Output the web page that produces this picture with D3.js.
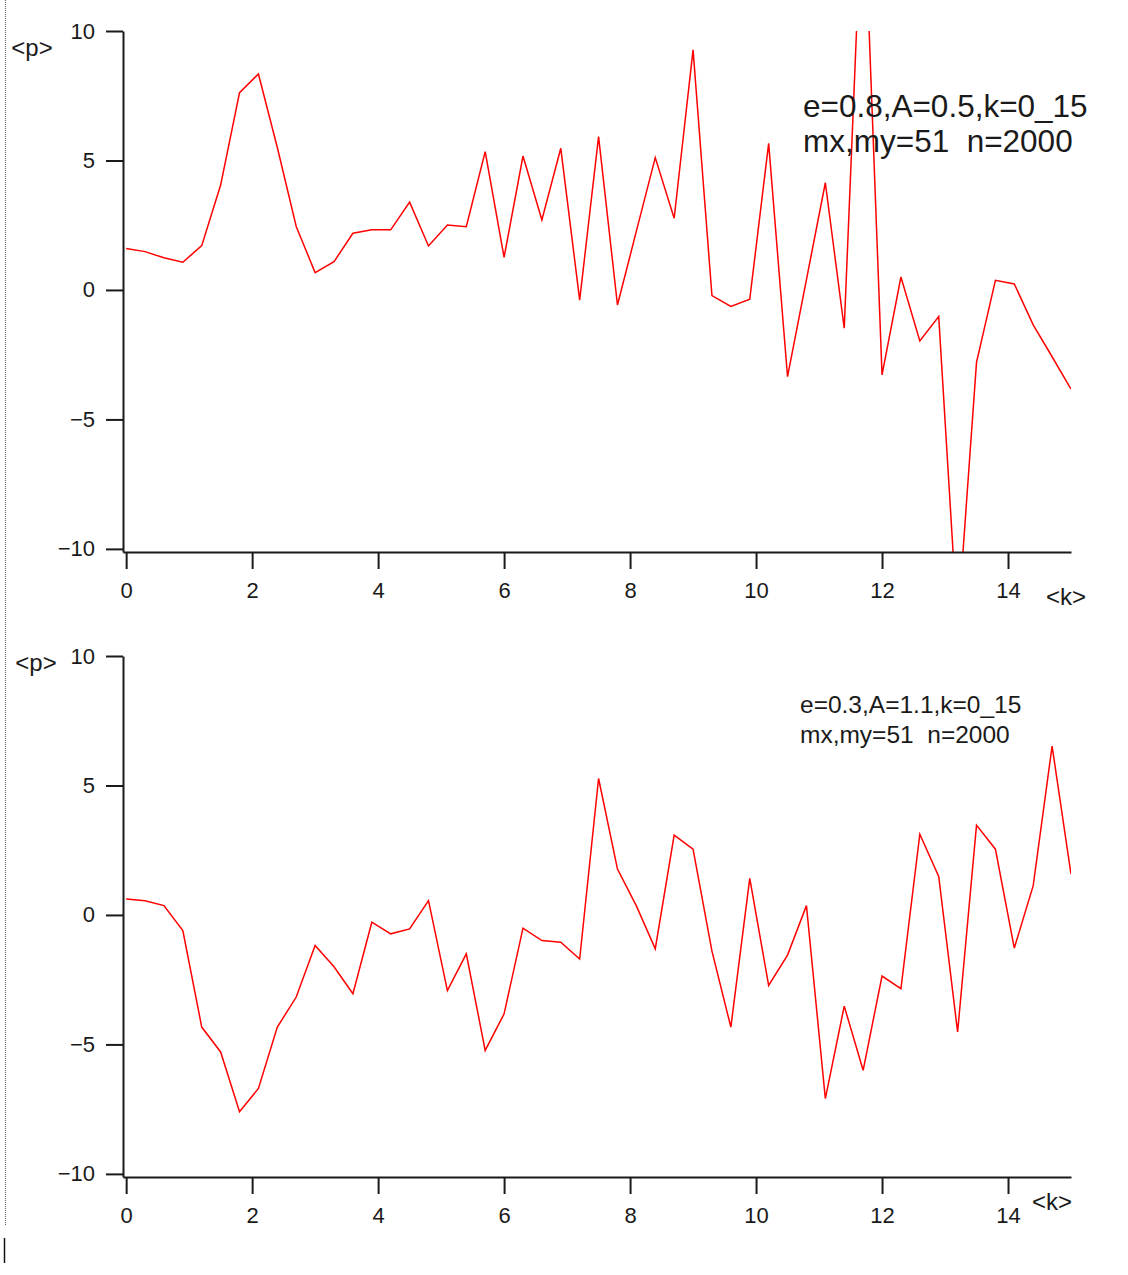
<!DOCTYPE html>
<html>
<head>
<meta charset="utf-8">
<script src="https://cdn.jsdelivr.net/npm/d3@7"></script>
<style>
    body { margin: 0; background: #fff; }
    svg { display: block; }
    .axis path, .axis line { stroke: #1a1a1a; stroke-width: 2; }
    .axis text { font-family: "Liberation Sans", Arial, sans-serif; font-size: 22px; fill: #1a1a1a; }
    .note { font-family: "Liberation Sans", Arial, sans-serif; fill: #1a1a1a; white-space: pre; }
    .axlabel { font-family: "Liberation Sans", Arial, sans-serif; font-size: 24px; fill: #1a1a1a; }
</style>
</head>
<body>
<div id="chart"></div>
<script>
// k grid (51 points, mx,my=51)
var kValues = [0, 0.3, 0.6, 0.9, 1.2, 1.5, 1.8, 2.1, 2.4, 2.7, 3.0, 3.3, 3.6, 3.9, 4.2, 4.5, 4.8, 5.1, 5.4, 5.7,
    6.0, 6.3, 6.6, 6.9, 7.2, 7.5, 7.8, 8.1, 8.4, 8.7, 9.0, 9.3, 9.6, 9.9, 10.2, 10.5, 10.8, 11.1, 11.4, 11.7,
    12.0, 12.3, 12.6, 12.9, 13.2, 13.5, 13.8, 14.1, 14.4, 14.7, 15.0];

// <p> for e=0.8, A=0.5
var pTop = [1.6, 1.48, 1.24, 1.07, 1.71, 4.05, 7.62, 8.34, 5.5, 2.45, 0.67, 1.09, 2.19, 2.32, 2.32, 3.39, 1.70, 2.51, 2.44, 5.34,
    1.26, 5.17, 2.70, 5.47, -0.39, 5.92, -0.58, 2.27, 5.11, 2.77, 9.27, -0.22, -0.64, -0.36, 5.66, -3.35, 0.4, 4.14, -1.48, 16.2,
    -3.28, 0.5, -1.97, -1.03, -13.0, -2.8, 0.37, 0.23, -1.35, -2.58, -3.83];

// <p> for e=0.3, A=1.1
var pBottom = [0.62, 0.55, 0.36, -0.6, -4.33, -5.29, -7.6, -6.7, -4.33, -3.17, -1.18, -2.0, -3.04, -0.28, -0.73, -0.54, 0.55, -2.92, -1.5, -5.23,
    -3.82, -0.51, -0.99, -1.05, -1.7, 5.27, 1.77, 0.35, -1.31, 3.08, 2.54, -1.4, -4.33, 1.41, -2.72, -1.55, 0.36, -7.09, -3.52, -6.0,
    -2.36, -2.85, 3.12, 1.49, -4.52, 3.47, 2.54, -1.28, 1.13, 6.52, 1.58];

var xTicks = [0, 2, 4, 6, 8, 10, 12, 14];
var yTicks = [-10, -5, 0, 5, 10];

var notesTop = ["e=0.8,A=0.5,k=0_15", "mx,my=51  n=2000"];
var notesBottom = ["e=0.3,A=1.1,k=0_15", "mx,my=51  n=2000"];

var svg = d3.select("#chart").append("svg")
    .attr("width", 1128)
    .attr("height", 1275);

// dotted frame edge on the left
svg.append("line")
    .attr("x1", 5.5).attr("x2", 5.5)
    .attr("y1", 0).attr("y2", 1225)
    .attr("stroke", "#666")
    .attr("stroke-dasharray", "1,1");
svg.append("line")
    .attr("x1", 4.5).attr("x2", 4.5)
    .attr("y1", 1238).attr("y2", 1263)
    .attr("stroke", "#111")
    .attr("stroke-width", 1.5);

LinePanel = function(_values, _top, _notes, _noteOpts, _labelPos, _id){
    var vis = this;

    this.values = _values;
    this.top = _top;
    this.notes = _notes;
    this.noteOpts = _noteOpts;
    this.labelPos = _labelPos;
    this.id = _id;
    this.left = 123;
    this.right = 1071;
    this.height = 521;

    this.initVis();
};

LinePanel.prototype.initVis = function() {
    var vis = this;

    vis.g = svg.append("g")
        .attr("transform", "translate(0," + vis.top + ")");

    vis.x = d3.scaleLinear()
        .domain([-0.05, 15])
        .range([vis.left, vis.right]);

    vis.y = d3.scaleLinear()
        .domain([-10.12, 10])
        .range([vis.height, 0]);

    vis.g.append("clipPath")
        .attr("id", "clip-" + vis.id)
        .append("rect")
        .attr("x", vis.left)
        .attr("y", 0)
        .attr("width", vis.right - vis.left)
        .attr("height", vis.height);

    // the curve
    var line = d3.line()
        .x(function(d, i) { return vis.x(kValues[i]); })
        .y(function(d) { return vis.y(d); });

    vis.g.append("path")
        .datum(vis.values)
        .attr("clip-path", "url(#clip-" + vis.id + ")")
        .attr("fill", "none")
        .attr("stroke", "#ff0000")
        .attr("stroke-width", 1.5)
        .attr("d", line);

    // axes
    vis.g.append("g")
        .attr("class", "axis")
        .attr("transform", "translate(" + vis.left + ",0)")
        .call(d3.axisLeft(vis.y).tickValues(yTicks).tickSize(17).tickSizeOuter(0).tickPadding(11));

    vis.g.append("g")
        .attr("class", "axis")
        .attr("transform", "translate(0," + vis.height + ")")
        .call(d3.axisBottom(vis.x).tickValues(xTicks).tickSize(17).tickSizeOuter(0).tickPadding(13));

    // axis names
    vis.g.append("text")
        .attr("class", "axlabel")
        .attr("x", vis.labelPos.px)
        .attr("y", vis.labelPos.py)
        .attr("text-anchor", "middle")
        .attr("dy", "0.35em")
        .text("<p>");

    vis.g.append("text")
        .attr("class", "axlabel")
        .attr("x", vis.labelPos.kx)
        .attr("y", vis.labelPos.ky)
        .attr("text-anchor", "middle")
        .attr("dy", "0.35em")
        .text("<k>");

    // parameter note
    vis.g.selectAll(".note")
        .data(vis.notes)
        .enter()
        .append("text")
        .attr("class", "note")
        .attr("x", vis.noteOpts.x)
        .attr("y", function(d, i) { return vis.noteOpts.y + i * vis.noteOpts.gap; })
        .attr("font-size", vis.noteOpts.size + "px")
        .text(function(d) { return d; });
};

new LinePanel(pTop, 31, notesTop,
    { x: 803, y: 86, gap: 35, size: 31.5 },
    { px: 32, py: 17, kx: 1066, ky: 566 }, "top");

new LinePanel(pBottom, 656, notesBottom,
    { x: 800, y: 57, gap: 30, size: 24.5 },
    { px: 36, py: 7, kx: 1052, ky: 546 }, "bottom");
</script>
</body>
</html>
